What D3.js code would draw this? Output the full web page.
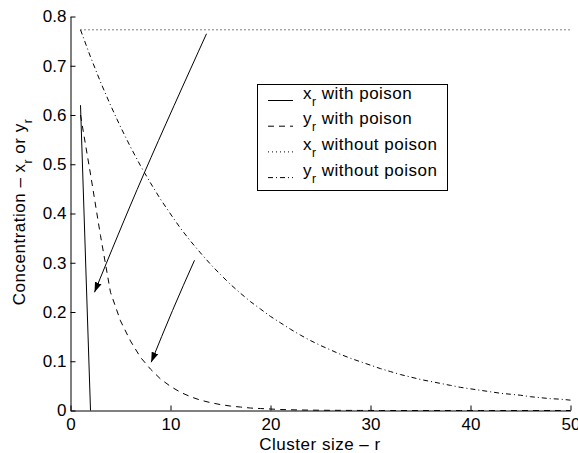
<!DOCTYPE html>
<html>
<head>
<meta charset="utf-8">
<script src="https://cdn.jsdelivr.net/npm/d3@7"></script>
<style>
  body { margin: 0; background: #fff; }
  svg { display: block; font-family: "Liberation Sans", Arial, Helvetica, sans-serif; }
  .axis path, .axis line { stroke: #000; stroke-width: 1; }
  .axis text { font-size: 17px; fill: #000; }
  .label { font-size: 17px; letter-spacing: 0.5px; fill: #000; }
</style>
</head>
<body>
<svg id="chart" width="578" height="453"></svg>
<script>
// Cluster size r (x axis)
var clusterSize = [1, 2, 3, 4, 5, 6, 7, 8, 9, 10, 11, 12, 13, 14, 15, 16, 17, 18, 19, 20,
  21, 22, 23, 24, 25, 26, 27, 28, 29, 30, 31, 32, 33, 34, 35, 36, 37, 38, 39, 40,
  41, 42, 43, 44, 45, 46, 47, 48, 49, 50];

// x_r with poison: drops to zero at r = 2
var xPoisonR = [1, 2];
var xPoison = [0.62, 0.0];

// y_r with poison
var yPoison = [0.600, 0.480, 0.355, 0.240, 0.182, 0.141, 0.108, 0.084, 0.064, 0.049,
  0.037, 0.028, 0.021, 0.016, 0.012, 0.009, 0.007, 0.005, 0.004, 0.003,
  0.002, 0.0015, 0.001, 0.0008, 0.0005, 0.0004, 0.0003, 0.0002, 0.0001, 0.0001,
  0, 0, 0, 0, 0, 0, 0, 0, 0, 0, 0, 0, 0, 0, 0, 0, 0, 0, 0, 0];

// x_r without poison: flat level
var xNoPoisonR = [1, 50];
var xNoPoison = [0.773, 0.773];

// y_r without poison
var yNoPoison = [0.773, 0.718, 0.667, 0.620, 0.576, 0.535, 0.497, 0.462, 0.429, 0.399,
  0.370, 0.344, 0.320, 0.297, 0.276, 0.256, 0.238, 0.221, 0.206, 0.191,
  0.178, 0.165, 0.153, 0.142, 0.132, 0.123, 0.114, 0.106, 0.099, 0.092,
  0.085, 0.079, 0.073, 0.068, 0.063, 0.059, 0.055, 0.051, 0.047, 0.044,
  0.041, 0.038, 0.035, 0.033, 0.031, 0.028, 0.026, 0.024, 0.023, 0.021];

var xTicks = [0, 10, 20, 30, 40, 50];
var yTicks = [0, 0.1, 0.2, 0.3, 0.4, 0.5, 0.6, 0.7, 0.8];

// annotation arrows, in data units: [start, middle, tip]
var arrowA = [[13.6, 0.765], [7.35, 0.481], [2.4, 0.240]];
var arrowB = [[12.4, 0.305], [10.2, 0.203], [8.07, 0.098]];

var legendItems = [
  { v: 'x', label: ' with poison', dash: null },
  { v: 'y', label: ' with poison', dash: '6,5' },
  { v: 'x', label: ' without poison', dash: '1,3' },
  { v: 'y', label: ' without poison', dash: '5,3,1,3' }
];

var svg = d3.select('#chart');

var x = d3.scaleLinear().domain([0, 50]).range([70.5, 570.5]);
var y = d3.scaleLinear().domain([0, 0.8]).range([410.5, 16.5]);

var defs = svg.append('defs');
defs.append('marker')
  .attr('id', 'head')
  .attr('markerUnits', 'userSpaceOnUse')
  .attr('viewBox', '0 -4 10 8')
  .attr('refX', 10)
  .attr('refY', 0)
  .attr('markerWidth', 10)
  .attr('markerHeight', 8)
  .attr('orient', 'auto')
  .append('path')
  .attr('d', 'M0,-3.5L10,0L0,3.5Z')
  .attr('fill', '#000');

// axes (ticks point inward, no box)
var xAxis = d3.axisBottom(x)
  .tickValues(xTicks)
  .tickSizeInner(-5)
  .tickSizeOuter(0)
  .tickPadding(7)
  .tickFormat(d3.format('d'));

var yAxis = d3.axisLeft(y)
  .tickValues(yTicks)
  .tickSizeInner(-5)
  .tickSizeOuter(0)
  .tickPadding(4)
  .tickFormat(d => d === 0 ? '0' : d3.format('.1f')(d));

svg.append('g')
  .attr('class', 'axis')
  .attr('transform', 'translate(0,' + y(0) + ')')
  .call(xAxis);

svg.append('g')
  .attr('class', 'axis')
  .attr('transform', 'translate(' + x(0) + ',0)')
  .call(yAxis);

// series
var line = d3.line()
  .x(d => x(d[0]))
  .y(d => y(d[1]));

function zipSeries(rs, vs) {
  return rs.map((r, i) => [r, vs[i]]);
}

var series = [
  { pts: zipSeries(xPoisonR, xPoison), dash: null },
  { pts: zipSeries(clusterSize, yPoison), dash: '6,5' },
  { pts: zipSeries(xNoPoisonR, xNoPoison), dash: '1,3' },
  { pts: zipSeries(clusterSize, yNoPoison), dash: '5,3,1,3' }
];

svg.append('g')
  .selectAll('path')
  .data(series)
  .enter()
  .append('path')
  .attr('d', s => line(s.pts))
  .attr('fill', 'none')
  .attr('stroke', '#000')
  .attr('stroke-width', 1)
  .attr('stroke-dasharray', s => s.dash);

// arrows
var arrowLine = d3.line()
  .x(d => x(d[0]))
  .y(d => y(d[1]))
  .curve(d3.curveNatural);

svg.append('g')
  .selectAll('path')
  .data([arrowA, arrowB])
  .enter()
  .append('path')
  .attr('d', arrowLine)
  .attr('fill', 'none')
  .attr('stroke', '#000')
  .attr('stroke-width', 1)
  .attr('marker-end', 'url(#head)');

// legend
var legend = svg.append('g').attr('transform', 'translate(257.5,84.5)');
legend.append('rect')
  .attr('width', 190)
  .attr('height', 106)
  .attr('fill', '#fff')
  .attr('stroke', '#000')
  .attr('stroke-width', 1);

var rows = legend.selectAll('.row')
  .data(legendItems)
  .enter()
  .append('g')
  .attr('class', 'row')
  .attr('transform', (d, i) => 'translate(0,' + (14 + i * 25.7) + ')');

rows.append('line')
  .attr('x1', 10.5)
  .attr('x2', 35.5)
  .attr('y1', 2)
  .attr('y2', 2)
  .attr('stroke', '#000')
  .attr('stroke-width', 1)
  .attr('stroke-dasharray', d => d.dash);

var rowText = rows.append('text')
  .attr('class', 'label')
  .attr('x', 45.5);
rowText.append('tspan').text(d => d.v);
rowText.append('tspan').attr('dy', 7).attr('font-size', 12).text('r');
rowText.append('tspan').attr('dy', -7).text(d => d.label);

// axis titles
svg.append('text')
  .attr('class', 'label')
  .attr('x', 320)
  .attr('y', 450)
  .attr('text-anchor', 'middle')
  .text('Cluster size \u2013 r');

var yTitle = svg.append('text')
  .attr('class', 'label')
  .attr('transform', 'translate(25,212) rotate(-90)')
  .attr('text-anchor', 'middle');
yTitle.append('tspan').text('Concentration \u2013 x');
yTitle.append('tspan').attr('dy', 7).attr('font-size', 12).text('r');
yTitle.append('tspan').attr('dy', -7).text(' or y');
yTitle.append('tspan').attr('dy', 7).attr('font-size', 12).text('r');
</script>
</body>
</html>
